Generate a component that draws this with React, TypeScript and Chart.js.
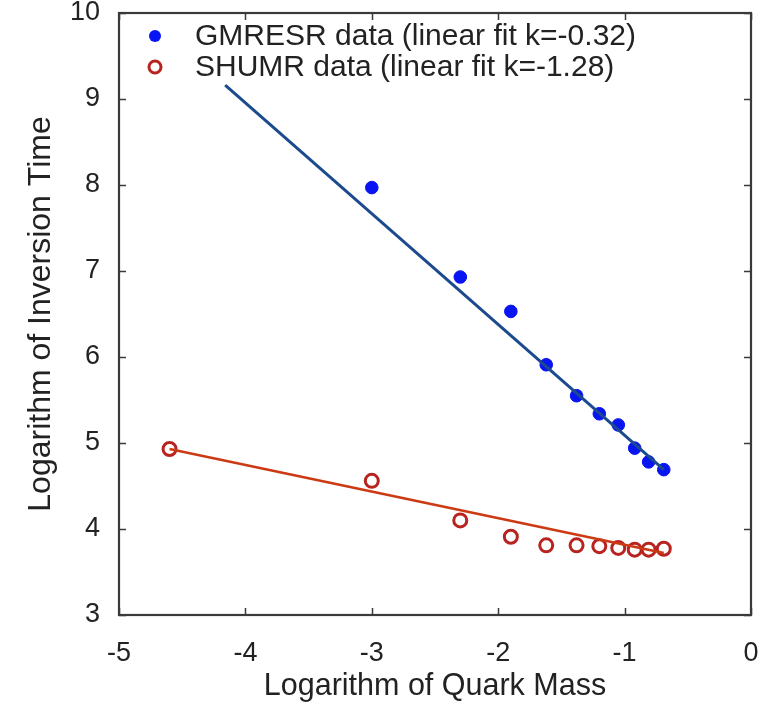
import React, { useEffect, useRef } from "react";
import { Chart, registerables } from "chart.js";

Chart.register(...registerables);

// ---- data ----
const gmresrX = [-3.0, -2.3, -1.9, -1.62, -1.38, -1.2, -1.05, -0.92, -0.81, -0.69];
const gmresrY = [7.97, 6.93, 6.53, 5.91, 5.55, 5.34, 5.21, 4.94, 4.78, 4.69];
const shumrX = [-4.6, -3.0, -2.3, -1.9, -1.62, -1.38, -1.2, -1.05, -0.92, -0.81, -0.69];
const shumrY = [4.93, 4.56, 4.1, 3.91, 3.81, 3.81, 3.8, 3.78, 3.76, 3.76, 3.77];
const gmresrFitX = [-4.16, -0.69];
const gmresrFitY = [9.16, 4.69];
const shumrFitX = [-4.6, -0.69];
const shumrFitY = [4.93, 3.72];
const legendLabels = ["GMRESR data (linear fit k=-0.32)", "SHUMR data (linear fit k=-1.28)"];
const xTitle = "Logarithm of Quark Mass";
const yTitle = "Logarithm of Inversion Time";
const xRange = [-5, 0];
const yRange = [3, 10];

const FONT = "'Liberation Sans', Arial, Helvetica, sans-serif";
const BLUE = "#0814f2";
const BLUE_LINE = "#1b4a8e";
const RED = "#b8231f";
const RED_LINE = "#cc3a14";
const AXIS = "#3a3a3a";
const TEXT = "#222";

const toPts = (xs: number[], ys: number[]) => xs.map((x, i) => ({ x, y: ys[i] }));

const boxPlugin = {
  id: "boxTicks",
  afterDatasetsDraw(chart: any) {
    const { ctx, chartArea: a, scales } = chart;
    const xs = scales.x;
    const ys = scales.y;
    ctx.save();
    ctx.strokeStyle = AXIS;
    ctx.lineWidth = 1.5;
    const L = 7;
    ctx.beginPath();
    xs.ticks.forEach((t: any) => {
      const px = Math.round(xs.getPixelForValue(t.value)) + 0.5;
      ctx.moveTo(px, a.bottom);
      ctx.lineTo(px, a.bottom - L);
      ctx.moveTo(px, a.top);
      ctx.lineTo(px, a.top + L);
    });
    ys.ticks.forEach((t: any) => {
      const py = Math.round(ys.getPixelForValue(t.value)) + 0.5;
      ctx.moveTo(a.left, py);
      ctx.lineTo(a.left + L, py);
      ctx.moveTo(a.right, py);
      ctx.lineTo(a.right - L, py);
    });
    ctx.stroke();
    ctx.lineWidth = 2.2;
    ctx.strokeRect(a.left, a.top, a.right - a.left, a.bottom - a.top);
    ctx.restore();
  },
};

const legendPlugin = {
  id: "inLegend",
  afterDraw(chart: any) {
    const { ctx, chartArea: a } = chart;
    ctx.save();
    const mx = a.left + 36;
    const tx = a.left + 76;
    const rows = [a.top + 23, a.top + 54];
    ctx.fillStyle = BLUE;
    ctx.beginPath();
    ctx.arc(mx, rows[0], 6, 0, Math.PI * 2);
    ctx.fill();
    ctx.strokeStyle = RED;
    ctx.lineWidth = 3;
    ctx.beginPath();
    ctx.arc(mx, rows[1], 6, 0, Math.PI * 2);
    ctx.stroke();
    ctx.fillStyle = TEXT;
    ctx.font = `30px ${FONT}`;
    ctx.textBaseline = "middle";
    ctx.textAlign = "left";
    ctx.fillText(legendLabels[0], tx, rows[0] + 1);
    ctx.fillText(legendLabels[1], tx, rows[1] + 1);
    ctx.restore();
  },
};

export default function App() {
  const ref = useRef<HTMLCanvasElement | null>(null);
  useEffect(() => {
    document.body.style.margin = "0";
    const canvas = ref.current;
    if (!canvas) return;
    const chart = new Chart(canvas, {
      type: "scatter",
      data: {
        datasets: [
          {
            label: "GMRESR fit",
            data: toPts(gmresrFitX, gmresrFitY),
            showLine: true,
            borderColor: BLUE_LINE,
            borderWidth: 3,
            pointRadius: 0,
            order: 0,
          } as any,
          {
            label: "SHUMR fit",
            data: toPts(shumrFitX, shumrFitY),
            showLine: true,
            borderColor: RED_LINE,
            borderWidth: 2.6,
            pointRadius: 0,
            order: 0,
          } as any,
          {
            label: legendLabels[0],
            data: toPts(gmresrX, gmresrY),
            pointRadius: 6.3,
            pointBackgroundColor: BLUE,
            pointBorderColor: BLUE,
            pointBorderWidth: 1,
            order: 1,
          },
          {
            label: legendLabels[1],
            data: toPts(shumrX, shumrY),
            pointRadius: 6.5,
            pointBackgroundColor: "rgba(255,255,255,0)",
            pointBorderColor: RED,
            pointBorderWidth: 3,
            order: 1,
          },
        ],
      },
      options: {
        animation: false,
        responsive: false,
        events: [],
        layout: { padding: { top: 13, right: 23, left: 0, bottom: 0 } },
        plugins: {
          legend: { display: false },
          tooltip: { enabled: false },
        },
        scales: {
          x: {
            type: "linear",
            min: xRange[0],
            max: xRange[1],
            grid: { display: false, drawTicks: false },
            border: { display: false },
            ticks: {
              stepSize: 1,
              padding: 22,
              color: TEXT,
              font: { family: FONT, size: 27 },
              maxRotation: 0,
            },
            title: {
              display: true,
              text: xTitle,
              color: TEXT,
              font: { family: FONT, size: 30.5, lineHeight: 1.2 },
              padding: { top: 0, bottom: -1 },
            },
            afterFit(scale: any) {
              scale.height = 89;
              scale.paddingLeft = 0;
              scale.paddingRight = 0;
            },
          },
          y: {
            type: "linear",
            min: yRange[0],
            max: yRange[1],
            grid: { display: false, drawTicks: false },
            border: { display: false },
            ticks: {
              stepSize: 1,
              padding: 19,
              color: TEXT,
              font: { family: FONT, size: 27 },
            },
            title: {
              display: true,
              text: yTitle,
              color: TEXT,
              font: { family: FONT, size: 32, lineHeight: 1.2 },
              padding: { top: 22, bottom: 0 },
            },
            afterFit(scale: any) {
              scale.width = 119;
              scale.paddingTop = 0;
              scale.paddingBottom = 0;
            },
          },
        },
      },
      plugins: [boxPlugin, legendPlugin],
    });
    return () => chart.destroy();
  }, []);
  return (
    <div style={{ width: 774, height: 704, background: "#fff" }}>
      <canvas ref={ref} width={774} height={704} style={{ display: "block" }} />
    </div>
  );
}
